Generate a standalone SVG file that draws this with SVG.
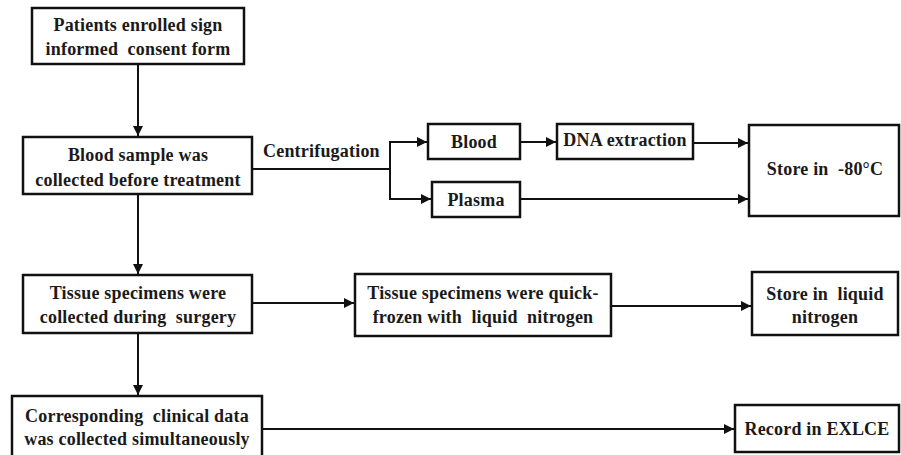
<svg xmlns="http://www.w3.org/2000/svg" width="901" height="455" viewBox="0 0 901 455">
<style>
.box{fill:#fff;stroke:#111;stroke-width:2.5}
.t{font-family:"Liberation Serif","Times New Roman","DejaVu Serif",serif;font-weight:bold;font-size:18px;letter-spacing:0.2px;fill:#1a1a1a;text-anchor:middle;white-space:pre}
.c{fill:none;stroke:#111;stroke-width:2}
</style>
<defs>
<marker id="ah" viewBox="0 0 10 10" refX="10" refY="5" markerWidth="5" markerHeight="5" orient="auto" markerUnits="strokeWidth">
<path d="M0,0 L10,5 L0,10 z" fill="#111"/>
</marker>
</defs>
<rect width="901" height="455" fill="#fff"/>
<g id="connectors">
<line class="c" x1="138" y1="64" x2="138" y2="136" marker-end="url(#ah)"/>
<polyline class="c" points="252,169 390,169 390,142 427,142" marker-end="url(#ah)"/>
<polyline class="c" points="390,169 390,199 431,199" marker-end="url(#ah)"/>
<line class="c" x1="520" y1="142" x2="556" y2="142" marker-end="url(#ah)"/>
<line class="c" x1="693" y1="143" x2="748" y2="143" marker-end="url(#ah)"/>
<line class="c" x1="520" y1="199" x2="748" y2="199" marker-end="url(#ah)"/>
<line class="c" x1="138" y1="194" x2="138" y2="274" marker-end="url(#ah)"/>
<line class="c" x1="252" y1="303" x2="354" y2="303" marker-end="url(#ah)"/>
<line class="c" x1="611" y1="306" x2="751" y2="306" marker-end="url(#ah)"/>
<line class="c" x1="138" y1="333" x2="138" y2="395" marker-end="url(#ah)"/>
<line class="c" x1="262" y1="429" x2="734" y2="429" marker-end="url(#ah)"/>
<text class="t" x="263" y="157" style="text-anchor:start">Centrifugation</text>
</g>
<g id="n1"><rect class="box" x="32" y="8" width="212" height="56"/>
<text class="t" x="138" y="31">Patients enrolled sign</text>
<text class="t" x="138" y="55">informed  consent form</text></g>
<g id="n2"><rect class="box" x="23" y="137" width="229" height="57"/>
<text class="t" x="138" y="161">Blood sample was</text>
<text class="t" x="138" y="186">collected before treatment</text></g>
<g id="n3"><rect class="box" x="428" y="124" width="92" height="35"/>
<text class="t" x="474" y="148">Blood</text></g>
<g id="n4"><rect class="box" x="432" y="182" width="88" height="35"/>
<text class="t" x="476" y="206">Plasma</text></g>
<g id="n5"><rect class="box" x="557" y="124" width="136" height="35"/>
<text class="t" x="625" y="146">DNA extraction</text></g>
<g id="n6"><rect class="box" x="749" y="125" width="150" height="91"/>
<text class="t" x="825" y="175">Store in  -80°C</text></g>
<g id="n7"><rect class="box" x="23" y="275" width="229" height="58"/>
<text class="t" x="138" y="299">Tissue specimens were</text>
<text class="t" x="138" y="323">collected during  surgery</text></g>
<g id="n8"><rect class="box" x="355" y="274" width="256" height="62"/>
<text class="t" x="483" y="299">Tissue specimens were quick-</text>
<text class="t" x="483" y="323">frozen with  liquid  nitrogen</text></g>
<g id="n9"><rect class="box" x="752" y="272" width="146" height="63"/>
<text class="t" x="825" y="300">Store in  liquid</text>
<text class="t" x="825" y="323">nitrogen</text></g>
<g id="n10"><rect class="box" x="12" y="396" width="250" height="64"/>
<text class="t" x="137" y="422">Corresponding  clinical data</text>
<text class="t" x="137" y="445">was collected simultaneously</text></g>
<g id="n11"><rect class="box" x="735" y="405" width="164" height="47"/>
<text class="t" x="817" y="435">Record in EXLCE</text></g>
</svg>
